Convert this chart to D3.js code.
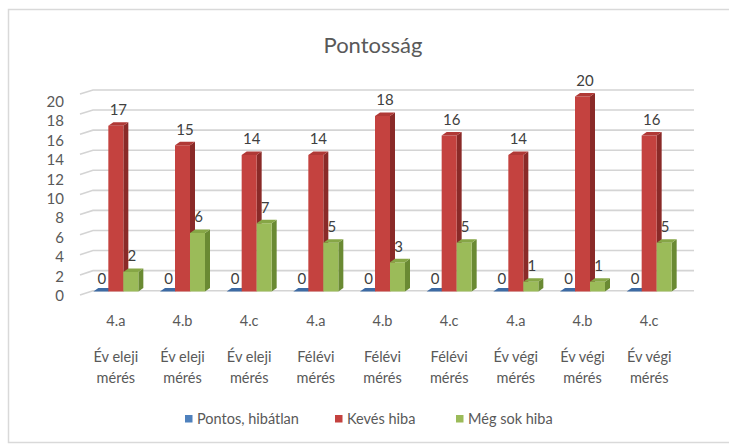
<!DOCTYPE html>
<html>
<head>
<meta charset="utf-8">
<script src="https://cdn.jsdelivr.net/npm/d3@7"></script>
<style>
	body { margin: 0; background: #fff; }
	svg { font-family: Lato, "Open Sans", sans-serif; }
</style>
</head>
<body>
<svg id="chart" width="729" height="446"></svg>
<script>
// data
const groups = ["4.a", "4.b", "4.c", "4.a", "4.b", "4.c", "4.a", "4.b", "4.c"]
const periods = [["Év eleji", "mérés"], ["Év eleji", "mérés"], ["Év eleji", "mérés"],
	["Félévi", "mérés"], ["Félévi", "mérés"], ["Félévi", "mérés"],
	["Év végi", "mérés"], ["Év végi", "mérés"], ["Év végi", "mérés"]]
const seriesNames = ["Pontos, hibátlan", "Kevés hiba", "Még sok hiba"]
const pontos = [0, 0, 0, 0, 0, 0, 0, 0, 0]
const keves = [17, 15, 14, 14, 18, 16, 14, 20, 16]
const megSok = [2, 6, 7, 5, 3, 5, 1, 1, 5]
const yTicks = [0, 2, 4, 6, 8, 10, 12, 14, 16, 18, 20]

const series = [pontos, keves, megSok]
const colors = [
	{ front: "#4f81bd", side: "#2f5a8e", top: "#3d6aa3" },
	{ front: "#c4423f", side: "#8a2a28", top: "#b03936" },
	{ front: "#9bbb59", side: "#6a8a33", top: "#86a646" }
]

const svg = d3.select("#chart")

// chart area border
svg.append("rect").attr("x", 8.5).attr("y", 9.5).attr("width", 740).attr("height", 433)
	.style("fill", "none").style("stroke", "#d9d9d9").style("stroke-width", 1.5)

svg.append("text").attr("x", 373).attr("y", 53).attr("text-anchor", "middle")
	.style("font-size", "22px").style("fill", "#595959").text("Pontosság")

// scales: bars, back wall and front edge differ a bit (perspective)
const x = d3.scaleBand().domain(d3.range(groups.length)).range([82.5, 682.5])
const y = d3.scaleLinear().domain([0, 20]).range([291.5, 96.5])
const yBack = d3.scaleLinear().domain([0, 20]).range([290.7, 90])
const yFront = d3.scaleLinear().domain([0, 20]).range([295, 94])
const yLabel = d3.scaleLinear().domain([0, 20]).range([296, 101.5])

const barW = 15, dx = 5, dy = -3.5
const wallX0 = 80, wallX1 = 93, wallX2 = 694

// gridlines
let grid = svg.append("g")
yTicks.forEach(v => {
	grid.append("polyline")
		.attr("points", `${wallX0},${yFront(v)} ${wallX1},${yBack(v)} ${wallX2},${yBack(v)}`)
		.style("fill", "none").style("stroke", "#d4d4d4").style("stroke-width", 1.6)
})

// y axis labels
svg.append("g").selectAll("text").data(yTicks).enter().append("text")
	.attr("x", 64).attr("y", d => yLabel(d)).attr("dy", "0.35em")
	.attr("text-anchor", "end").style("font-size", "15px").style("fill", "#595959")
	.text(d => d)

// data labels first, bars drawn over them like the 3D original
let labels = svg.append("g")
series.forEach((vals, s) => {
	vals.forEach((v, i) => {
		let bx = x(i) + x.bandwidth() / 2 - 1.5 * barW + s * barW
		labels.append("text")
			.attr("x", bx + barW / 2 + (s == 1 ? 2.5 : 1))
			.attr("y", y(v) - 16 + (v == 0 ? 3 : 0)).attr("dy", "0.35em")
			.attr("text-anchor", "middle").style("font-size", "15px").style("fill", "#404040")
			.text(v)
	})
})

// 3D bars
let bars = svg.append("g")
series.forEach((vals, s) => {
	let g = bars.append("g")
	vals.forEach((v, i) => {
		let x0 = x(i) + x.bandwidth() / 2 - 1.5 * barW + s * barW
		let x1 = x0 + barW
		let yt = y(v), yb = y(0)
		// side
		g.append("polygon")
			.attr("points", `${x1},${yb} ${x1 + dx},${yb + dy} ${x1 + dx},${yt + dy} ${x1},${yt}`)
			.style("fill", colors[s].side)
		// front
		g.append("rect").attr("x", x0).attr("y", yt).attr("width", barW).attr("height", yb - yt)
			.style("fill", colors[s].front)
		// top
		g.append("polygon")
			.attr("points", `${x0},${yt} ${x1},${yt} ${x1 + dx},${yt + dy} ${x0 + dx},${yt + dy}`)
			.style("fill", colors[s].top)
	})
})

// category labels
let cat = svg.append("g").style("font-size", "14.5px").style("fill", "#595959")
	.attr("text-anchor", "middle")
groups.forEach((gname, i) => {
	let cx = x(i) + x.bandwidth() / 2
	cat.append("text").attr("x", cx).attr("y", 326).text(gname)
	cat.append("text").attr("x", cx).attr("y", 362).text(periods[i][0])
	cat.append("text").attr("x", cx).attr("y", 383).text(periods[i][1])
})

// legend
const legendX = [185, 335, 456]
let legend = svg.append("g")
seriesNames.forEach((name, s) => {
	legend.append("rect").attr("x", legendX[s]).attr("y", 415).attr("width", 7.5).attr("height", 7.5)
		.style("fill", colors[s].front)
	legend.append("text").attr("x", legendX[s] + 12).attr("y", 419).attr("dy", "0.35em")
		.style("font-size", "14.5px").style("fill", "#595959").text(name)
})
</script>
</body>
</html>
